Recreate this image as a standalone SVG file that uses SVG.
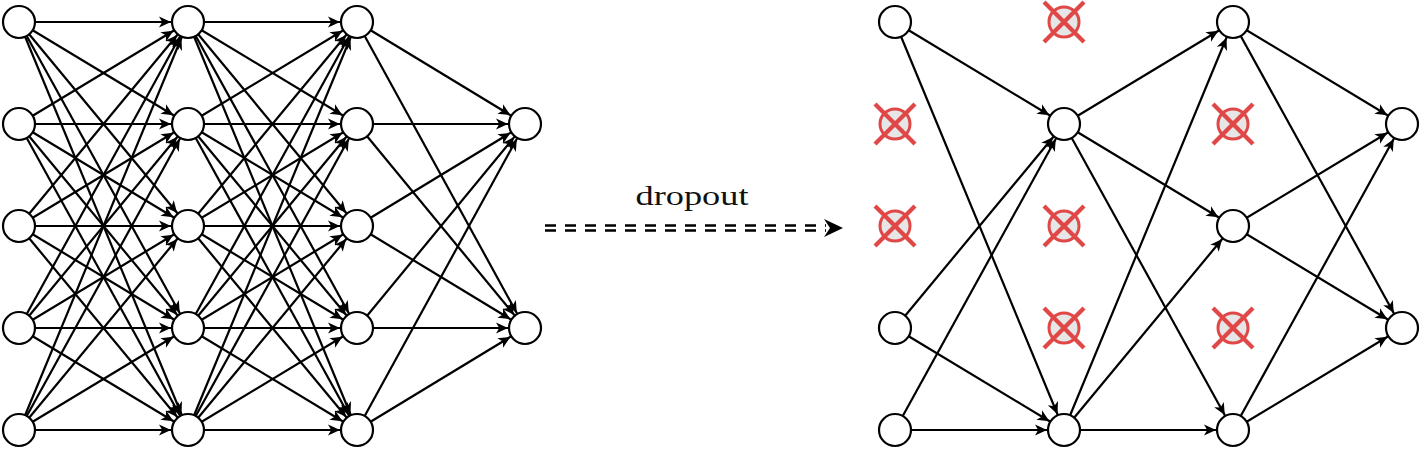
<svg xmlns="http://www.w3.org/2000/svg" width="1422" height="450" viewBox="0 0 1422 450">
<style>
.e{stroke:#000;stroke-width:2.2;fill:none;marker-end:url(#a)}
.n{fill:#fff;stroke:#000;stroke-width:2.2}
.dc{fill:#e6e6e6;stroke:#e04848;stroke-width:3}
.dx{stroke:#e04848;stroke-width:4.2;stroke-linecap:butt}
.dash{stroke:#000;stroke-width:2.4;stroke-dasharray:11 9;fill:none}
.lbl{font-family:"Liberation Serif","DejaVu Serif",serif;font-size:27px;fill:#111}
</style>
<defs>
<marker id="a" markerUnits="userSpaceOnUse" markerWidth="30" markerHeight="14" refX="29" refY="7" orient="auto" overflow="visible">
<path d="M0,1.5 L12,7 L0,12.5 L3.2,7 Z" fill="#000"/>
</marker>
<g id="drop">
<circle r="15" class="dc"/>
<line x1="-20" y1="-20" x2="20" y2="20" class="dx"/>
<line x1="20" y1="-20" x2="-20" y2="20" class="dx"/>
</g>
</defs>
<rect width="1422" height="450" fill="#fff"/>
<g id="connectors">
<line class="e" x1="19" y1="22" x2="188" y2="22"/>
<line class="e" x1="19" y1="22" x2="188" y2="124"/>
<line class="e" x1="19" y1="22" x2="188" y2="226"/>
<line class="e" x1="19" y1="22" x2="188" y2="328"/>
<line class="e" x1="19" y1="22" x2="188" y2="430"/>
<line class="e" x1="19" y1="124" x2="188" y2="22"/>
<line class="e" x1="19" y1="124" x2="188" y2="124"/>
<line class="e" x1="19" y1="124" x2="188" y2="226"/>
<line class="e" x1="19" y1="124" x2="188" y2="328"/>
<line class="e" x1="19" y1="124" x2="188" y2="430"/>
<line class="e" x1="19" y1="226" x2="188" y2="22"/>
<line class="e" x1="19" y1="226" x2="188" y2="124"/>
<line class="e" x1="19" y1="226" x2="188" y2="226"/>
<line class="e" x1="19" y1="226" x2="188" y2="328"/>
<line class="e" x1="19" y1="226" x2="188" y2="430"/>
<line class="e" x1="19" y1="328" x2="188" y2="22"/>
<line class="e" x1="19" y1="328" x2="188" y2="124"/>
<line class="e" x1="19" y1="328" x2="188" y2="226"/>
<line class="e" x1="19" y1="328" x2="188" y2="328"/>
<line class="e" x1="19" y1="328" x2="188" y2="430"/>
<line class="e" x1="19" y1="430" x2="188" y2="22"/>
<line class="e" x1="19" y1="430" x2="188" y2="124"/>
<line class="e" x1="19" y1="430" x2="188" y2="226"/>
<line class="e" x1="19" y1="430" x2="188" y2="328"/>
<line class="e" x1="19" y1="430" x2="188" y2="430"/>
<line class="e" x1="188" y1="22" x2="357" y2="22"/>
<line class="e" x1="188" y1="22" x2="357" y2="124"/>
<line class="e" x1="188" y1="22" x2="357" y2="226"/>
<line class="e" x1="188" y1="22" x2="357" y2="328"/>
<line class="e" x1="188" y1="22" x2="357" y2="430"/>
<line class="e" x1="188" y1="124" x2="357" y2="22"/>
<line class="e" x1="188" y1="124" x2="357" y2="124"/>
<line class="e" x1="188" y1="124" x2="357" y2="226"/>
<line class="e" x1="188" y1="124" x2="357" y2="328"/>
<line class="e" x1="188" y1="124" x2="357" y2="430"/>
<line class="e" x1="188" y1="226" x2="357" y2="22"/>
<line class="e" x1="188" y1="226" x2="357" y2="124"/>
<line class="e" x1="188" y1="226" x2="357" y2="226"/>
<line class="e" x1="188" y1="226" x2="357" y2="328"/>
<line class="e" x1="188" y1="226" x2="357" y2="430"/>
<line class="e" x1="188" y1="328" x2="357" y2="22"/>
<line class="e" x1="188" y1="328" x2="357" y2="124"/>
<line class="e" x1="188" y1="328" x2="357" y2="226"/>
<line class="e" x1="188" y1="328" x2="357" y2="328"/>
<line class="e" x1="188" y1="328" x2="357" y2="430"/>
<line class="e" x1="188" y1="430" x2="357" y2="22"/>
<line class="e" x1="188" y1="430" x2="357" y2="124"/>
<line class="e" x1="188" y1="430" x2="357" y2="226"/>
<line class="e" x1="188" y1="430" x2="357" y2="328"/>
<line class="e" x1="188" y1="430" x2="357" y2="430"/>
<line class="e" x1="357" y1="22" x2="525" y2="124"/>
<line class="e" x1="357" y1="22" x2="525" y2="328"/>
<line class="e" x1="357" y1="124" x2="525" y2="124"/>
<line class="e" x1="357" y1="124" x2="525" y2="328"/>
<line class="e" x1="357" y1="226" x2="525" y2="124"/>
<line class="e" x1="357" y1="226" x2="525" y2="328"/>
<line class="e" x1="357" y1="328" x2="525" y2="124"/>
<line class="e" x1="357" y1="328" x2="525" y2="328"/>
<line class="e" x1="357" y1="430" x2="525" y2="124"/>
<line class="e" x1="357" y1="430" x2="525" y2="328"/>
<line class="e" x1="895" y1="22" x2="1064" y2="124"/>
<line class="e" x1="895" y1="22" x2="1064" y2="430"/>
<line class="e" x1="895" y1="328" x2="1064" y2="124"/>
<line class="e" x1="895" y1="328" x2="1064" y2="430"/>
<line class="e" x1="895" y1="430" x2="1064" y2="124"/>
<line class="e" x1="895" y1="430" x2="1064" y2="430"/>
<line class="e" x1="1064" y1="124" x2="1233" y2="22"/>
<line class="e" x1="1064" y1="124" x2="1233" y2="226"/>
<line class="e" x1="1064" y1="124" x2="1233" y2="430"/>
<line class="e" x1="1064" y1="430" x2="1233" y2="22"/>
<line class="e" x1="1064" y1="430" x2="1233" y2="226"/>
<line class="e" x1="1064" y1="430" x2="1233" y2="430"/>
<line class="e" x1="1233" y1="22" x2="1402" y2="124"/>
<line class="e" x1="1233" y1="22" x2="1402" y2="328"/>
<line class="e" x1="1233" y1="226" x2="1402" y2="124"/>
<line class="e" x1="1233" y1="226" x2="1402" y2="328"/>
<line class="e" x1="1233" y1="430" x2="1402" y2="124"/>
<line class="e" x1="1233" y1="430" x2="1402" y2="328"/>
</g>
<g id="dropout-arrow">
<line class="dash" x1="545" y1="225.5" x2="826" y2="225.5"/>
<line class="dash" x1="545" y1="230.5" x2="826" y2="230.5"/>
<path d="M824,219 L843,228 L824,237 L830,228 Z" fill="#000"/>
<text class="lbl" x="692" y="205" text-anchor="middle" textLength="113" lengthAdjust="spacingAndGlyphs">dropout</text>
</g>
<g id="L1n0"><circle class="n" cx="19" cy="22" r="16"/></g>
<g id="L1n1"><circle class="n" cx="19" cy="124" r="16"/></g>
<g id="L1n2"><circle class="n" cx="19" cy="226" r="16"/></g>
<g id="L1n3"><circle class="n" cx="19" cy="328" r="16"/></g>
<g id="L1n4"><circle class="n" cx="19" cy="430" r="16"/></g>
<g id="L2n0"><circle class="n" cx="188" cy="22" r="16"/></g>
<g id="L2n1"><circle class="n" cx="188" cy="124" r="16"/></g>
<g id="L2n2"><circle class="n" cx="188" cy="226" r="16"/></g>
<g id="L2n3"><circle class="n" cx="188" cy="328" r="16"/></g>
<g id="L2n4"><circle class="n" cx="188" cy="430" r="16"/></g>
<g id="L3n0"><circle class="n" cx="357" cy="22" r="16"/></g>
<g id="L3n1"><circle class="n" cx="357" cy="124" r="16"/></g>
<g id="L3n2"><circle class="n" cx="357" cy="226" r="16"/></g>
<g id="L3n3"><circle class="n" cx="357" cy="328" r="16"/></g>
<g id="L3n4"><circle class="n" cx="357" cy="430" r="16"/></g>
<g id="L4n0"><circle class="n" cx="525" cy="124" r="16"/></g>
<g id="L4n1"><circle class="n" cx="525" cy="328" r="16"/></g>
<g id="R1n0"><circle class="n" cx="895" cy="22" r="16"/></g>
<g id="R1n1"><use href="#drop" x="895" y="124"/></g>
<g id="R1n2"><use href="#drop" x="895" y="226"/></g>
<g id="R1n3"><circle class="n" cx="895" cy="328" r="16"/></g>
<g id="R1n4"><circle class="n" cx="895" cy="430" r="16"/></g>
<g id="R2n0"><use href="#drop" x="1064" y="22"/></g>
<g id="R2n1"><circle class="n" cx="1064" cy="124" r="16"/></g>
<g id="R2n2"><use href="#drop" x="1064" y="226"/></g>
<g id="R2n3"><use href="#drop" x="1064" y="328"/></g>
<g id="R2n4"><circle class="n" cx="1064" cy="430" r="16"/></g>
<g id="R3n0"><circle class="n" cx="1233" cy="22" r="16"/></g>
<g id="R3n1"><use href="#drop" x="1233" y="124"/></g>
<g id="R3n2"><circle class="n" cx="1233" cy="226" r="16"/></g>
<g id="R3n3"><use href="#drop" x="1233" y="328"/></g>
<g id="R3n4"><circle class="n" cx="1233" cy="430" r="16"/></g>
<g id="R4n0"><circle class="n" cx="1402" cy="124" r="16"/></g>
<g id="R4n1"><circle class="n" cx="1402" cy="328" r="16"/></g>
</svg>
